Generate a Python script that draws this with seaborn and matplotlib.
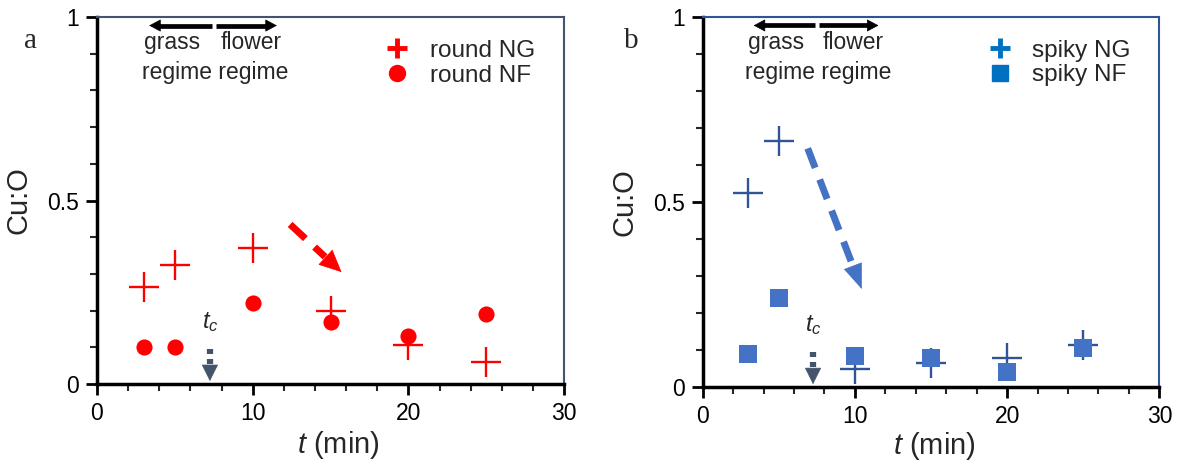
import matplotlib
matplotlib.use("Agg")
import matplotlib.pyplot as plt
from matplotlib.lines import Line2D
from matplotlib.ticker import MultipleLocator, FixedLocator
import seaborn as sns

sns.set_theme(style="white")
plt.rcParams["font.family"] = ["Liberation Sans", "DejaVu Sans"]
plt.rcParams["mathtext.fontset"] = "custom"
plt.rcParams["mathtext.rm"] = "Liberation Sans"
plt.rcParams["mathtext.it"] = "Liberation Sans:italic"

# sampling times (min)
t = [3, 5, 10, 15, 20, 25]

# round particles
round_ng = [0.265, 0.325, 0.37, 0.20, 0.105, 0.06]
round_nf = [0.10, 0.10, 0.22, 0.17, 0.13, 0.19]

# spiky particles
spiky_ng = [0.525, 0.665, 0.05, 0.065, 0.08, 0.115]
spiky_nf = [0.09, 0.24, 0.085, 0.08, 0.04, 0.105]

x_ticks = [0, 10, 20, 30]
y_ticks = [0, 0.5, 1]
y_ticklabels = ["0", "0.5", "1"]

t_c = 7.25

fig = plt.figure(figsize=(11.77, 4.71), dpi=100)
ax_a = fig.add_axes([0.0824, 0.1847, 0.397, 0.779])
ax_b = fig.add_axes([0.597, 0.178, 0.388, 0.786])

RED = "#ff0000"
BLUE_PLUS = "#2f5597"
BLUE_SQ = "#4472c4"
BLUE_LEG = "#0070c0"
SLATE = "#44546a"


def solid_head(ax, tail, tip, color, length_pt, width_pt):
    """Filled triangular arrow head pointing from tail towards tip."""
    ax.annotate("", xy=tip, xytext=tail,
                arrowprops=dict(
                    arrowstyle=f"-|>,head_length={length_pt},head_width={width_pt / 2}",
                    color=color, lw=0.5, mutation_scale=1,
                    shrinkA=0, shrinkB=0))


def dashed_arrow(ax, start, end, color, head_frac, length_pt, width_pt):
    """Dashed shaft with a solid triangular head."""
    hx = end[0] - (end[0] - start[0]) * head_frac
    hy = end[1] - (end[1] - start[1]) * head_frac
    ax.plot([start[0], hx], [start[1], hy], color=color, lw=5,
            linestyle=(0, (3, 1.8)), dash_capstyle="butt")
    solid_head(ax, (hx, hy), end, color, length_pt, width_pt)


def style_axes(ax, frame_color, ylabel_x, xlabel_xy):
    ax.set_xlim(0, 30)
    ax.set_ylim(0, 1)
    ax.xaxis.set_major_locator(FixedLocator(x_ticks))
    ax.xaxis.set_minor_locator(MultipleLocator(2))
    ax.yaxis.set_major_locator(FixedLocator(y_ticks))
    ax.yaxis.set_minor_locator(MultipleLocator(0.1))
    ax.set_yticklabels(y_ticklabels)
    ax.set_xticklabels([str(v) for v in x_ticks])
    ax.tick_params(which="major", direction="out", length=8, width=2,
                   labelsize=16.5, colors="black", bottom=True, left=True,
                   pad=5)
    ax.tick_params(which="minor", direction="out", length=5, width=1.5,
                   bottom=True, left=True)
    for s in ("left", "bottom"):
        ax.spines[s].set_color("black")
        ax.spines[s].set_linewidth(2.5)
    for s in ("top", "right"):
        ax.spines[s].set_color(frame_color)
        ax.spines[s].set_linewidth(1.5)
    ax.set_ylabel("Cu:O", fontsize=21)
    ax.yaxis.set_label_coords(ylabel_x, 0.5)
    ax.set_xlabel(r"$\mathit{t}$ (min)", fontsize=21)
    ax.xaxis.set_label_coords(*xlabel_xy)

    # regime arrows: grass to the left, flower to the right
    y_arr = 0.977
    ax.plot([3.9, 7.4], [y_arr, y_arr], color="black", lw=3.4,
            solid_capstyle="butt")
    solid_head(ax, (4.0, y_arr), (3.35, y_arr), "black", 7.5, 8)
    ax.plot([7.62, 11.0], [y_arr, y_arr], color="black", lw=3.4,
            solid_capstyle="butt")
    solid_head(ax, (10.9, y_arr), (11.55, y_arr), "black", 7.5, 8)
    ax.text(4.8, 0.932, "grass", ha="center", va="center", fontsize=16.5)
    ax.text(9.9, 0.932, "flower", ha="center", va="center", fontsize=16.5)
    ax.text(7.6, 0.85, "regime regime", ha="center", va="center", fontsize=16.5)

    # critical time marker
    ax.plot([t_c, t_c], [0.054, 0.096], color=SLATE, lw=4.5,
            linestyle=(0, (0.8, 0.8)), dash_capstyle="butt")
    solid_head(ax, (t_c, 0.05), (t_c, 0.008), SLATE, 11, 11)
    ax.text(t_c, 0.168, r"$t_c$", ha="center", va="center", fontsize=17)


# panel a
sns.scatterplot(x=t, y=round_ng, marker="+", s=470, color=RED,
                linewidth=1.7, ax=ax_a, legend=False)
sns.scatterplot(x=t, y=round_nf, marker="o", s=135, color=RED,
                edgecolor=RED, linewidth=0, ax=ax_a, legend=False)
style_axes(ax_a, SLATE, -0.137, (0.516, -0.122))
dashed_arrow(ax_a, (12.4, 0.435), (15.7, 0.305), RED, 0.32, 15, 14)
ax_a.legend(handles=[
    Line2D([], [], marker="+", linestyle="none", color=RED, markersize=15,
           markeredgewidth=3.5, label="round NG"),
    Line2D([], [], marker="o", linestyle="none", color=RED, markersize=11.5,
           label="round NF")],
    loc="upper right", frameon=False, fontsize=17.5, handletextpad=0.35,
    labelspacing=0.12, bbox_to_anchor=(0.975, 0.985), borderaxespad=0.3)
fig.text(0.0255, 0.912, "a", fontsize=21, family="Liberation Serif",
         ha="center", va="center")

# panel b
sns.scatterplot(x=t, y=spiky_ng, marker="+", s=470, color=BLUE_PLUS,
                linewidth=1.7, ax=ax_b, legend=False)
sns.scatterplot(x=t, y=spiky_nf, marker="s", s=150, color=BLUE_SQ,
                edgecolor=BLUE_SQ, linewidth=0, ax=ax_b, legend=False)
style_axes(ax_b, "#2f5597", -0.14, (0.508, -0.117))
dashed_arrow(ax_b, (6.9, 0.645), (10.45, 0.265), BLUE_SQ, 0.15, 17, 13)
ax_b.legend(handles=[
    Line2D([], [], marker="+", linestyle="none", color=BLUE_LEG, markersize=15,
           markeredgewidth=3.5, label="spiky NG"),
    Line2D([], [], marker="s", linestyle="none", color=BLUE_LEG, markersize=11,
           label="spiky NF")],
    loc="upper right", frameon=False, fontsize=17.5, handletextpad=0.35,
    labelspacing=0.12, bbox_to_anchor=(0.975, 0.985), borderaxespad=0.3)
fig.text(0.536, 0.912, "b", fontsize=21, family="Liberation Serif",
         ha="center", va="center")

fig.savefig("out.png", dpi=100)
